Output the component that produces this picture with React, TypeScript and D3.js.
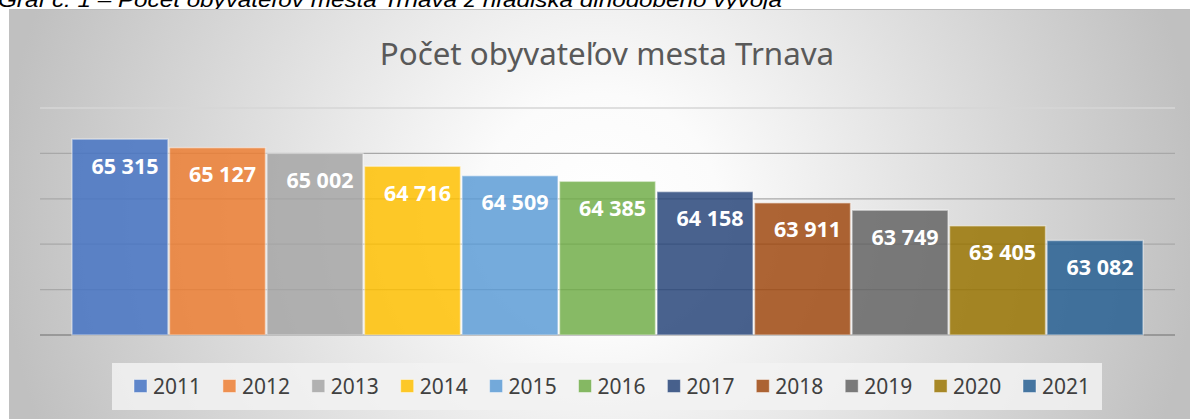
import React from "react";
import * as d3 from "d3";

const years = ["2011", "2012", "2013", "2014", "2015", "2016", "2017", "2018", "2019", "2020", "2021"];
const population = [65315, 65127, 65002, 64716, 64509, 64385, 64158, 63911, 63749, 63405, 63082];
const colors = ["#4472C4", "#ED7D31", "#A5A5A5", "#FFC000", "#5B9BD5", "#70AD47", "#264478", "#9E480E", "#636363", "#997300", "#255E91"];
const gridTicks = [61000, 62000, 63000, 64000, 65000, 66000];
const title = "Počet obyvateľov mesta Trnava";
const caption = "Graf č. 1 – Počet obyvateľov mesta Trnava z hľadiska dlhodobého vývoja";

const W = 1190;
const H = 419;
const fmt = (v: number) => d3.format(",")(v).replace(/,/g, " ");

export default function App() {
  const x = d3.scaleBand<string>().domain(years).range([40, 1175]).paddingInner(0).paddingOuter(0.32);
  const y = d3.scaleLinear().domain([61000, 66000]).range([335, 108]);
  const font = "'Noto Sans', 'Open Sans', sans-serif";

  const legendX0 = 134;
  const legendStep = 88.9;

  return (
    <svg width={W} height={H} style={{ position: "absolute", left: 0, top: 0, background: "#fff" }}>
      <defs>
        <radialGradient id="bg" gradientUnits="userSpaceOnUse" cx={600} cy={214} r={600}>
          <stop offset="0" stopColor="#ffffff" />
          <stop offset="0.2" stopColor="#fbfbfb" />
          <stop offset="1" stopColor="#c0c0c0" />
        </radialGradient>
      </defs>
      <text x={-2} y={6.5} fontFamily="'Liberation Sans', Arial, sans-serif" fontStyle="italic" fontSize={21} textLength={784} lengthAdjust="spacingAndGlyphs" fill="#000">
        {caption}
      </text>
      <rect x={9} y={9} width={W - 9} height={H - 9} fill="url(#bg)" />
      <line x1={9} x2={W} y1={9.5} y2={9.5} stroke="#bdbdbd" strokeWidth={1} />
      <text x={607} y={65} textAnchor="middle" fontFamily={font} fontSize={31.3} fill="#595959">
        {title}
      </text>
      {gridTicks.map((t) => (
        <line
          key={t}
          x1={40}
          x2={1175}
          y1={y(t)}
          y2={y(t)}
          stroke={t === 61000 ? "#8a8a8a" : t === 66000 ? "#d6d6d6" : "#a8a8a8"}
          strokeWidth={t === 61000 ? 1.6 : 1.3}
        />
      ))}
      {years.map((yr, i) => {
        const x0 = x(yr)!;
        const top = y(population[i]);
        return (
          <g key={yr}>
            <rect
              x={x0 + 0.75}
              y={top}
              width={x.bandwidth() - 1.5}
              height={y(61000) - top}
              fill={colors[i]}
              fillOpacity={0.84}
              stroke="#ffffff"
              strokeOpacity={0.45}
              strokeWidth={1.5}
            />
            <text
              x={x0 + x.bandwidth() / 2 + 5}
              y={top + 34.5}
              textAnchor="middle"
              fontFamily={font}
              fontWeight="bold"
              fontSize={21.5}
              fill="#ffffff"
            >
              {fmt(population[i])}
            </text>
          </g>
        );
      })}
      <rect x={112} y={363} width={990} height={47} fill="#f2f2f2" fillOpacity={0.85} />
      {years.map((yr, i) => {
        const lx = legendX0 + i * legendStep;
        return (
          <g key={"lg" + yr}>
            <rect x={lx} y={379.5} width={13} height={13} fill={colors[i]} fillOpacity={0.84} stroke="#ffffff" strokeOpacity={0.45} strokeWidth={1} />
            <text x={lx + 19} y={394} fontFamily={font} fontSize={21} fill="#404040">
              {yr}
            </text>
          </g>
        );
      })}
    </svg>
  );
}
